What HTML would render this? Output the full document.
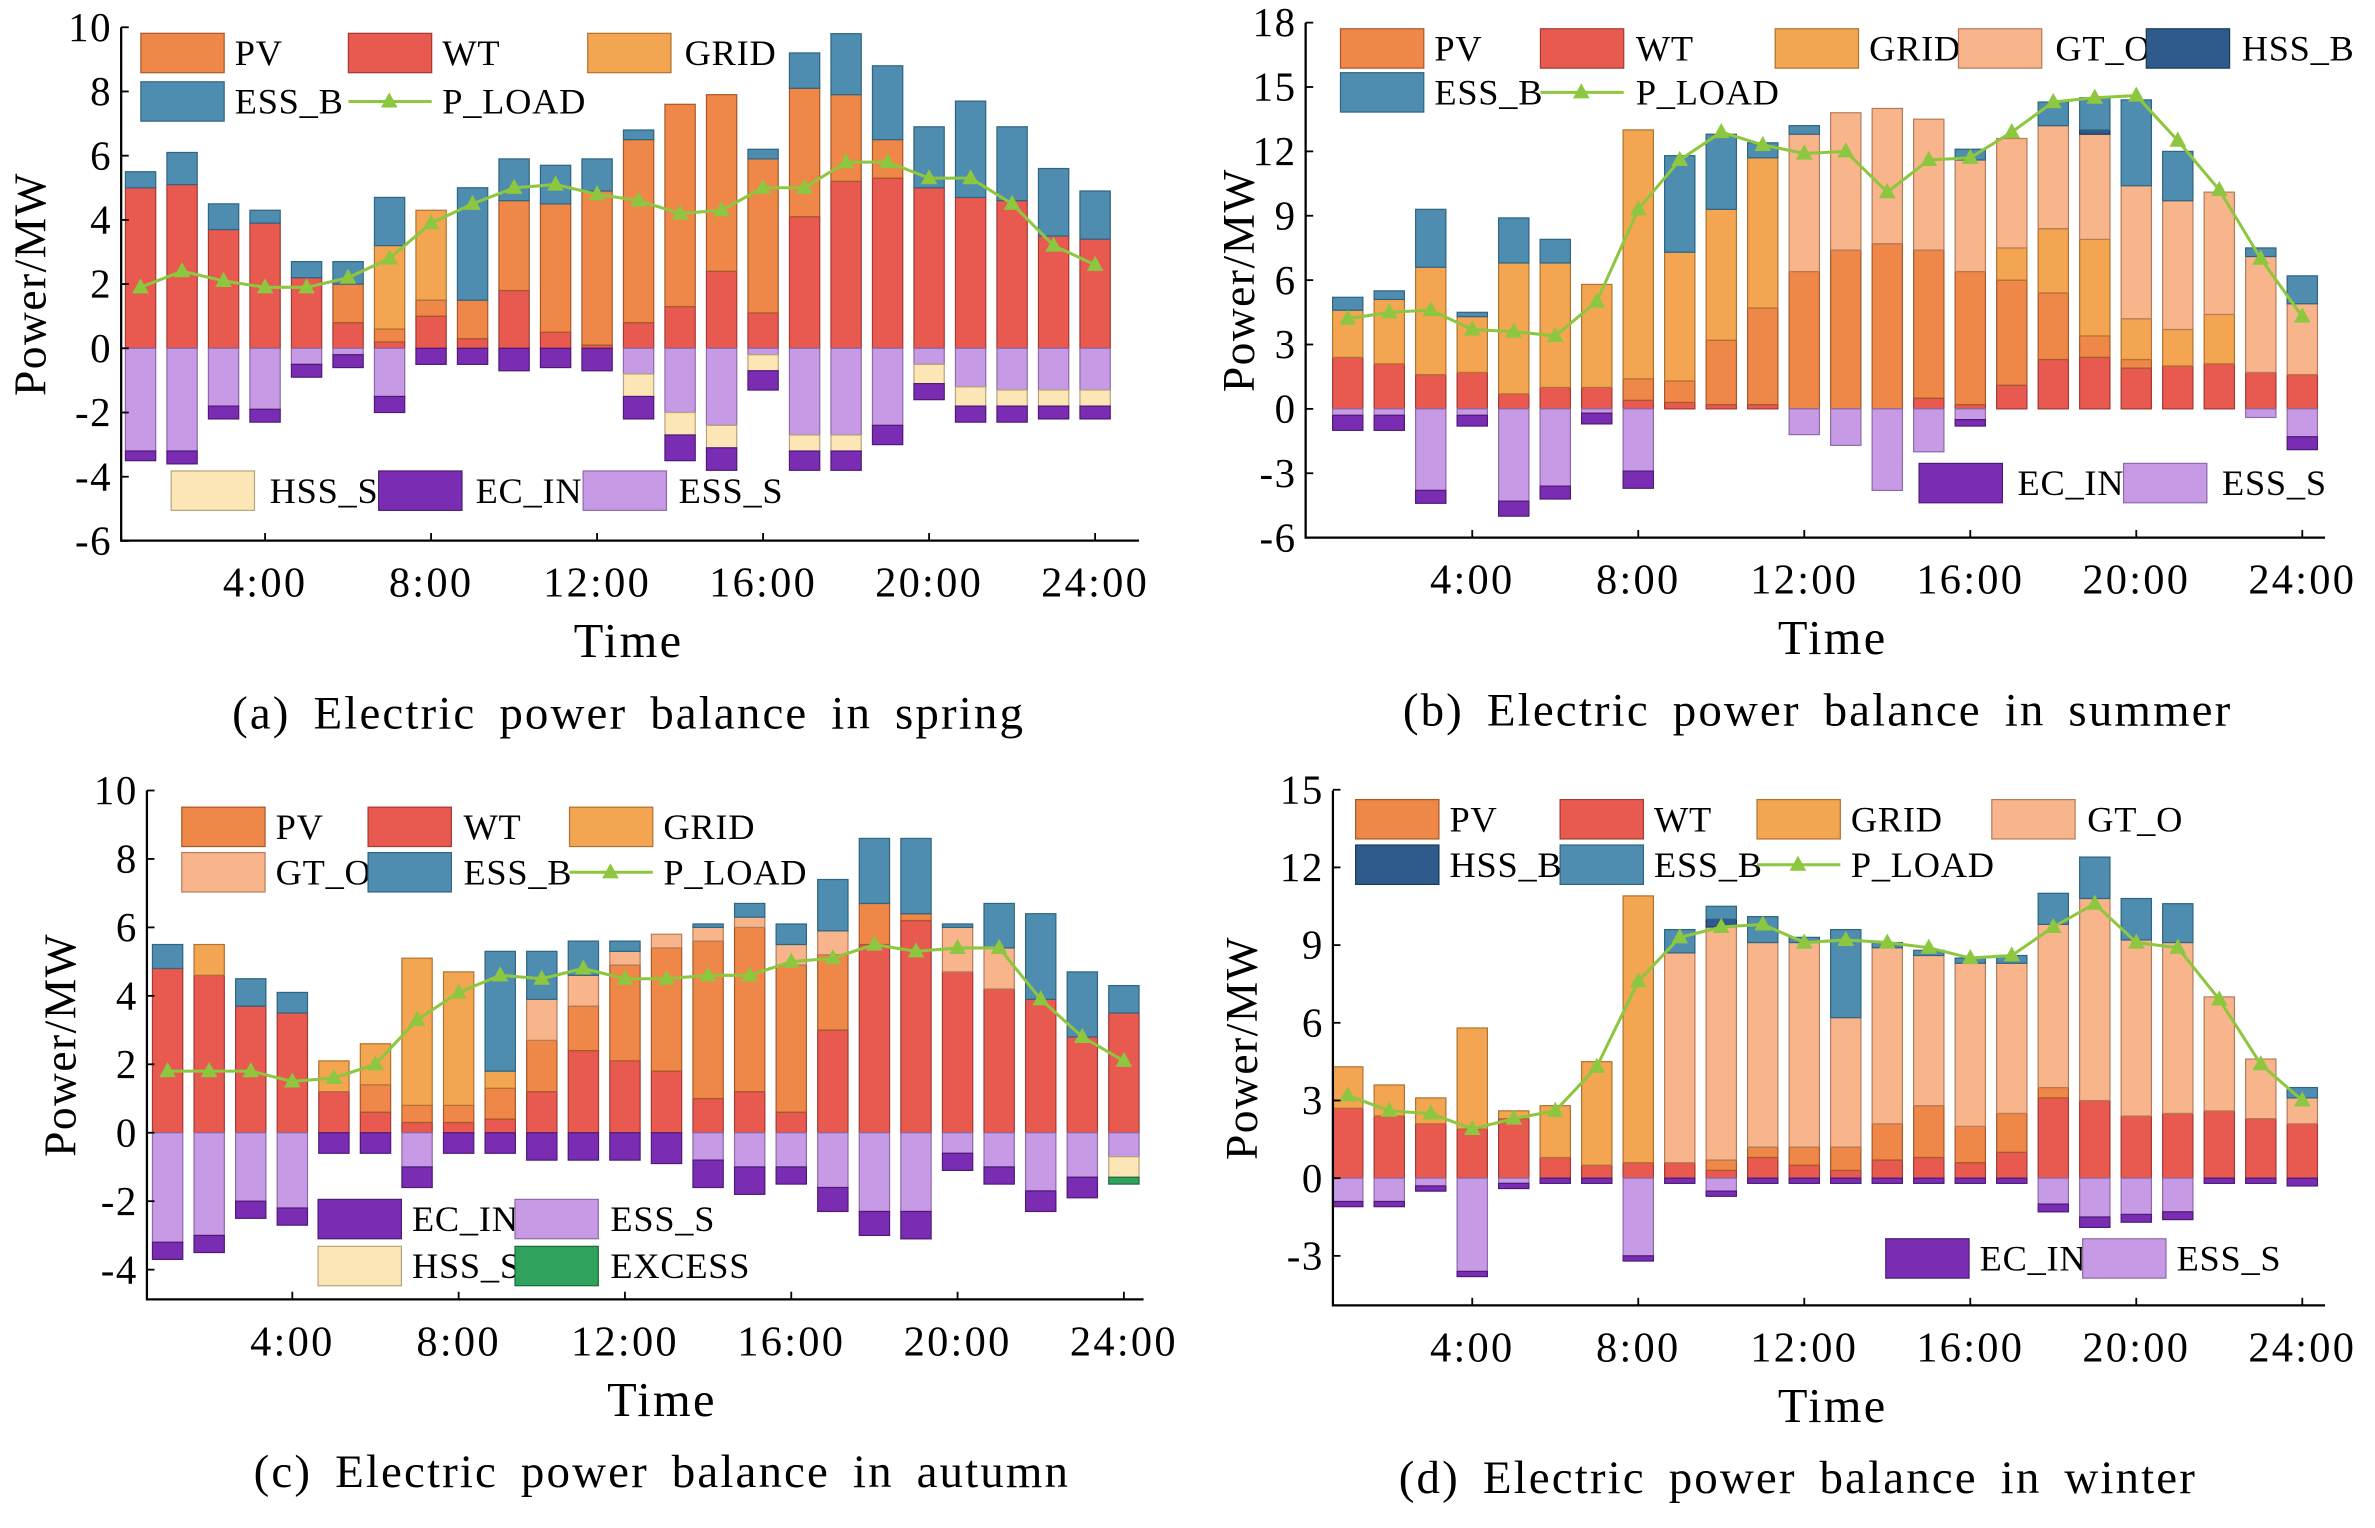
<!DOCTYPE html>
<html><head><meta charset="utf-8">
<style>
html,body{margin:0;padding:0;background:#fff;}
svg{display:block;font-family:"Liberation Serif",serif;}
</style></head>
<body>
<svg id="chart" width="2375" height="1528" viewBox="0 0 1568 1009" preserveAspectRatio="none" xmlns="http://www.w3.org/2000/svg"></svg>
<script>
// ---------- DATA ----------
const hours = [1,2,3,4,5,6,7,8,9,10,11,12,13,14,15,16,17,18,19,20,21,22,23,24];
const xTickLabels = ["4:00","8:00","12:00","16:00","20:00","24:00"];
const xTickHours = [4,8,12,16,20,24];

// Spring
const springWT   = [5.0,5.1,3.7,3.9,2.2,0.8,0.2,1.0,0.3,1.8,0.5,0.1,0.8,1.3,2.4,1.1,4.1,5.2,5.3,5.0,4.7,4.6,3.5,3.4];
const springPV   = [0,0,0,0,0,1.2,0.4,0.5,1.2,2.8,4.0,4.8,5.7,6.3,5.5,4.8,4.0,2.7,1.2,0,0,0,0,0];
const springGRID = [0,0,0,0,0,0,2.6,2.8,0,0,0,0,0,0,0,0,0,0,0,0,0,0,0,0];
const springESSB = [0.5,1.0,0.8,0.4,0.5,0.7,1.5,0,3.5,1.3,1.2,1.0,0.3,0,0,0.3,1.1,1.9,2.3,1.9,3.0,2.3,2.1,1.5];
const springESSS = [3.2,3.2,1.8,1.9,0.5,0.2,1.5,0,0,0,0,0,0.8,2.0,2.4,0.2,2.7,2.7,2.4,0.5,1.2,1.3,1.3,1.3];
const springHSSS = [0,0,0,0,0,0,0,0,0,0,0,0,0.7,0.7,0.7,0.5,0.5,0.5,0,0.6,0.6,0.5,0.5,0.5];
const springECIN = [0.3,0.4,0.4,0.4,0.4,0.4,0.5,0.5,0.5,0.7,0.6,0.7,0.7,0.8,0.7,0.6,0.6,0.6,0.6,0.5,0.5,0.5,0.4,0.4];
const springLoad = [1.9,2.4,2.1,1.9,1.9,2.2,2.8,3.9,4.5,5.0,5.1,4.8,4.6,4.2,4.3,5.0,5.0,5.8,5.8,5.3,5.3,4.5,3.2,2.6];

// Summer
const summerWT   = [2.4,2.1,1.6,1.7,0.7,1.0,1.0,0.4,0.3,0.2,0.2,0,0,0,0.5,0.2,1.1,2.3,2.4,1.9,2.0,2.1,1.7,1.6];
const summerPV   = [0,0,0,0,0,0,0,1.0,1.0,3.0,4.5,6.4,7.4,7.7,6.9,6.2,4.9,3.1,1.0,0.4,0,0,0,0];
const summerGRID = [2.2,3.0,5.0,2.6,6.1,5.8,4.8,11.6,6.0,6.1,7.0,0,0,0,0,0,1.5,3.0,4.5,1.9,1.7,2.3,0,0];
const summerGTO  = [0,0,0,0,0,0,0,0,0,0,0,6.4,6.4,6.3,6.1,5.2,5.1,4.8,4.9,6.2,6.0,5.7,5.4,3.3];
const summerHSSB = [0,0,0,0,0,0,0,0,0,0,0,0,0,0,0,0,0,0,0.2,0,0,0,0,0];
const summerESSB = [0.6,0.4,2.7,0.2,2.1,1.1,0,0,4.5,3.5,0.7,0.4,0,0,0,0.5,0,1.1,1.5,4.0,2.3,0,0.4,1.3];
const summerESSS = [0.3,0.3,3.8,0.3,4.3,3.6,0.2,2.9,0,0,0,1.2,1.7,3.8,2.0,0.5,0,0,0,0,0,0,0.4,1.3];
const summerECIN = [0.7,0.7,0.6,0.5,0.7,0.6,0.5,0.8,0,0,0,0,0,0,0,0.3,0,0,0,0,0,0,0,0.6];
const summerLoad = [4.2,4.5,4.6,3.7,3.6,3.4,5.0,9.3,11.6,12.9,12.3,11.9,12.0,10.1,11.6,11.7,12.9,14.3,14.5,14.6,12.5,10.2,7.0,4.3];

// Autumn
const autumnWT   = [4.8,4.6,3.7,3.5,1.2,0.6,0.3,0.3,0.4,1.2,2.4,2.1,1.8,1.0,1.2,0.6,3.0,5.5,6.2,4.7,4.2,3.9,2.8,3.5];
const autumnPV   = [0,0,0,0,0,0.8,0.5,0.5,0.9,1.5,1.3,2.8,3.6,4.6,4.8,4.3,2.2,1.2,0.2,0,0,0,0,0];
const autumnGRID = [0,0.9,0,0,0.9,1.2,4.3,3.9,0.5,0,0,0,0,0,0,0,0,0,0,0,0,0,0,0];
const autumnGTO  = [0,0,0,0,0,0,0,0,0,1.2,0.9,0.4,0.4,0.4,0.3,0.6,0.7,0,0,1.3,1.2,0,0,0];
const autumnESSB = [0.7,0,0.8,0.6,0,0,0,0,3.5,1.4,1.0,0.3,0,0.1,0.4,0.6,1.5,1.9,2.2,0.1,1.3,2.5,1.9,0.8];
const autumnESSS = [3.2,3.0,2.0,2.2,0,0,1.0,0,0,0,0,0,0,0.8,1.0,1.0,1.6,2.3,2.3,0.6,1.0,1.7,1.3,0.7];
const autumnHSSS = [0,0,0,0,0,0,0,0,0,0,0,0,0,0,0,0,0,0,0,0,0,0,0,0.6];
const autumnECIN = [0.5,0.5,0.5,0.5,0.6,0.6,0.6,0.6,0.6,0.8,0.8,0.8,0.9,0.8,0.8,0.5,0.7,0.7,0.8,0.5,0.5,0.6,0.6,0];
const autumnEXCESS=[0,0,0,0,0,0,0,0,0,0,0,0,0,0,0,0,0,0,0,0,0,0,0,0.2];
const autumnLoad = [1.8,1.8,1.8,1.5,1.6,2.0,3.3,4.1,4.6,4.5,4.8,4.5,4.5,4.6,4.6,5.0,5.1,5.5,5.3,5.4,5.4,3.9,2.8,2.1];

// Winter
const winterWT   = [2.7,2.4,2.1,1.9,2.3,0.8,0.5,0.6,0.6,0.3,0.8,0.5,0.3,0.7,0.8,0.6,1.0,3.1,3.0,2.4,2.5,2.6,2.3,2.1];
const winterPV   = [0,0,0,0,0,0,0,0,0,0.4,0.4,0.7,0.9,1.4,2.0,1.4,1.5,0.4,0,0,0,0,0,0];
const winterGRID = [1.6,1.2,1.0,3.9,0.3,2.0,4.0,10.3,0,0,0,0,0,0,0,0,0,0,0,0,0,0,0,0];
const winterGTO  = [0,0,0,0,0,0,0,0,8.1,9.0,7.9,7.9,5.0,6.8,5.8,6.3,5.8,6.3,7.8,6.8,6.6,4.4,2.3,1.0];
const winterHSSB = [0,0,0,0,0,0,0,0,0,0.3,0,0,0,0,0,0,0,0,0,0,0,0,0,0];
const winterESSB = [0,0,0,0,0,0,0,0,0.9,0.5,1.0,0.2,3.4,0.2,0.2,0.2,0.3,1.2,1.6,1.6,1.5,0,0,0.4];
const winterESSS = [0.9,0.9,0.3,3.6,0.2,0,0,3.0,0,0.5,0,0,0,0,0,0,0,1.0,1.5,1.4,1.3,0,0,0];
const winterECIN = [0.2,0.2,0.2,0.2,0.2,0.2,0.2,0.2,0.2,0.2,0.2,0.2,0.2,0.2,0.2,0.2,0.2,0.3,0.4,0.3,0.3,0.2,0.2,0.3];
const winterLoad = [3.2,2.6,2.5,1.9,2.3,2.6,4.3,7.6,9.3,9.7,9.8,9.1,9.2,9.1,8.9,8.5,8.6,9.7,10.6,9.1,8.9,6.9,4.4,3.0];

const yTicksA = [-6,-4,-2,0,2,4,6,8,10];
const yTicksB = [-6,-3,0,3,6,9,12,15,18];
const yTicksC = [-4,-2,0,2,4,6,8,10];
const yTicksD = [-3,0,3,6,9,12,15];

// ---------- STYLE ----------
const COL = {PV:"#ee8748",WT:"#e85a50",GRID:"#f4a552",GT_O:"#f8b48a",HSS_B:"#2e5b8c",ESS_B:"#4e8db0",
  HSS_S:"#fde6b6",EC_IN:"#7a2db3",ESS_S:"#c79ae5",EXCESS:"#2fa35d",LOAD:"#8dc63f"};
const STROKE = {PV:"#a8592a",WT:"#a33a33",GRID:"#b07330",GT_O:"#b57c5c",HSS_B:"#1c3a5c",ESS_B:"#2f6580",
  HSS_S:"#b8a47a",EC_IN:"#4f1a77",ESS_S:"#8e6aa8",EXCESS:"#1c6b3b"};
const svg = document.getElementById('chart');
const NS = "http://www.w3.org/2000/svg";
function mk(tag, attrs, parent){const e=document.createElementNS(NS,tag);for(const k in attrs)e.setAttribute(k,attrs[k]);(parent||svg).appendChild(e);return e;}

function panel(cfg){
  const g = mk('g',{});
  
  
  const yS = v => cfg.y0 - v*cfg.ppu;
  const xS = h => cfg.x4 + (h-4)*cfg.pph;
  const bw = 20;
  hours.forEach((h,i)=>{
    let acc = 0;
    cfg.pos.forEach(s=>{
      const v = s.data[i]; if(!v) return;
      const r = mk('rect',{x:xS(h)-bw/2,y:yS(acc+v),width:bw,height:v*cfg.ppu,fill:COL[s.key],stroke:STROKE[s.key],'stroke-width':0.8},g);
      
      
      acc += v;
    });
    acc = 0;
    cfg.neg.forEach(s=>{
      const v = s.data[i]; if(!v) return;
      const r = mk('rect',{x:xS(h)-bw/2,y:yS(-acc),width:bw,height:v*cfg.ppu,fill:COL[s.key],stroke:STROKE[s.key],'stroke-width':0.8},g);
      
      
      acc += v;
    });
  });
  const pts = hours.map((h,i)=>xS(h)+','+yS(cfg.load[i])).join(' ');
  const pl = mk('polyline',{points:pts,fill:'none',stroke:COL.LOAD,'stroke-width':2},g);
  
  
  hours.forEach((h,i)=>{
    const cx=xS(h), cy=yS(cfg.load[i]);
    const t = mk('polygon',{points:`${cx},${cy-6} ${cx-5.5},${cy+4} ${cx+5.5},${cy+4}`,fill:COL.LOAD},g);
    
    
  });
  const ax = mk('path',{d:`M${cfg.ax},${cfg.top} V${cfg.bottom} H${cfg.right}`,fill:'none',stroke:'#000','stroke-width':1.5},g);
  
  
  cfg.yTicks.forEach(v=>{
    mk('line',{x1:cfg.ax,x2:cfg.ax+5,y1:yS(v),y2:yS(v),stroke:'#000','stroke-width':1.2},g);
    const t = mk('text',{x:cfg.ax-6,y:yS(v)+9,'text-anchor':'end','font-size':27,'letter-spacing':1},g);
    t.textContent = v;
    
    
  });
  xTickHours.forEach((h,i)=>{
    mk('line',{x1:xS(h),x2:xS(h),y1:cfg.bottom,y2:cfg.bottom-5,stroke:'#000','stroke-width':1.2},g);
    const t = mk('text',{x:xS(h),y:cfg.bottom+37,'text-anchor':'middle','font-size':28,'letter-spacing':1.5},g);
    t.textContent = xTickLabels[i];
    
    
  });
  const yt = mk('text',{x:0,y:0,'text-anchor':'middle','font-size':30,'letter-spacing':1,transform:`translate(${cfg.ytX},${(cfg.top+cfg.bottom)/2}) rotate(-90)`},g);
  yt.textContent = 'Power/MW';
  
  
  const xt = mk('text',{x:cfg.timeX,y:cfg.bottom+77,'text-anchor':'middle','font-size':32,'letter-spacing':1.5},g);
  xt.textContent = 'Time';
  
  
  const cp = mk('text',{x:cfg.capX,y:cfg.bottom+124,'text-anchor':'middle','font-size':31,'letter-spacing':1.4,'word-spacing':6},g);
  cp.textContent = cfg.caption;
  
  
  cfg.legend.forEach(L=>{
    const [key,x,y,tx] = L;
    if(key==='P_LOAD'){
      mk('line',{x1:x,x2:x+55,y1:y+13,y2:y+13,stroke:COL.LOAD,'stroke-width':2},g);
      mk('polygon',{points:`${x+27},${y+7} ${x+21.5},${y+17} ${x+32.5},${y+17}`,fill:COL.LOAD},g);
    } else {
      const r = mk('rect',{x:x,y:y,width:55,height:26,fill:COL[key],stroke:STROKE[key],'stroke-width':0.8},g);
      
      
    }
    const t = mk('text',{x:tx,y:y+21,'font-size':24,'letter-spacing':0.5},g);
    t.textContent = key;
    
    
  });
}

panel({name:'panel-spring',y0:230,ppu:21.2,x4:175,pph:27.4,ax:80,top:18,bottom:357,right:752,ytX:30,timeX:415,capX:415,
  caption:'(a) Electric power balance in spring',yTicks:yTicksA,load:springLoad,
  pos:[{key:'WT',data:springWT},{key:'PV',data:springPV},{key:'GRID',data:springGRID},{key:'ESS_B',data:springESSB}],
  neg:[{key:'ESS_S',data:springESSS},{key:'HSS_S',data:springHSSS},{key:'EC_IN',data:springECIN}],
  legend:[['PV',93,22,155],['WT',230,22,292],['GRID',388,22,452],['ESS_B',93,54,155],['P_LOAD',230,54,292],
          ['HSS_S',113,311,178],['EC_IN',250,311,314],['ESS_S',385,311,448]]});

panel({name:'panel-summer',y0:270,ppu:14.17,x4:972,pph:27.4,ax:862,top:15,bottom:355,right:1535,ytX:828,timeX:1210,capX:1200,
  caption:'(b) Electric power balance in summer',yTicks:yTicksB,load:summerLoad,
  pos:[{key:'WT',data:summerWT},{key:'PV',data:summerPV},{key:'GRID',data:summerGRID},{key:'GT_O',data:summerGTO},{key:'HSS_B',data:summerHSSB},{key:'ESS_B',data:summerESSB}],
  neg:[{key:'ESS_S',data:summerESSS},{key:'EC_IN',data:summerECIN}],
  legend:[['PV',885,19,947],['WT',1017,19,1080],['GRID',1172,19,1234],['GT_O',1293,19,1357],['HSS_B',1417,19,1480],
          ['ESS_B',885,48,947],['P_LOAD',1017,48,1080],['EC_IN',1267,306,1332],['ESS_S',1402,306,1467]]});

panel({name:'panel-autumn',y0:748,ppu:22.6,x4:193,pph:27.45,ax:97,top:522,bottom:858,right:755,ytX:50,timeX:437,capX:437,
  caption:'(c) Electric power balance in autumn',yTicks:yTicksC,load:autumnLoad,
  pos:[{key:'WT',data:autumnWT},{key:'PV',data:autumnPV},{key:'GRID',data:autumnGRID},{key:'GT_O',data:autumnGTO},{key:'ESS_B',data:autumnESSB}],
  neg:[{key:'ESS_S',data:autumnESSS},{key:'HSS_S',data:autumnHSSS},{key:'EXCESS',data:autumnEXCESS},{key:'EC_IN',data:autumnECIN}],
  legend:[['PV',120,533,182],['WT',243,533,306],['GRID',376,533,438],['GT_O',120,563,182],['ESS_B',243,563,306],['P_LOAD',376,563,438],
          ['EC_IN',210,792,272],['ESS_S',340,792,403],['HSS_S',210,823,272],['EXCESS',340,823,403]]});

panel({name:'panel-winter',y0:778,ppu:17.1,x4:972,pph:27.4,ax:880,top:522,bottom:862,right:1535,ytX:830,timeX:1210,capX:1187,
  caption:'(d) Electric power balance in winter',yTicks:yTicksD,load:winterLoad,
  pos:[{key:'WT',data:winterWT},{key:'PV',data:winterPV},{key:'GRID',data:winterGRID},{key:'GT_O',data:winterGTO},{key:'HSS_B',data:winterHSSB},{key:'ESS_B',data:winterESSB}],
  neg:[{key:'ESS_S',data:winterESSS},{key:'EC_IN',data:winterECIN}],
  legend:[['PV',895,528,957],['WT',1030,528,1092],['GRID',1160,528,1222],['GT_O',1315,528,1378],
          ['HSS_B',895,558,957],['ESS_B',1030,558,1092],['P_LOAD',1160,558,1222],['EC_IN',1245,818,1307],['ESS_S',1375,818,1437]]});
</script>
</body></html>
